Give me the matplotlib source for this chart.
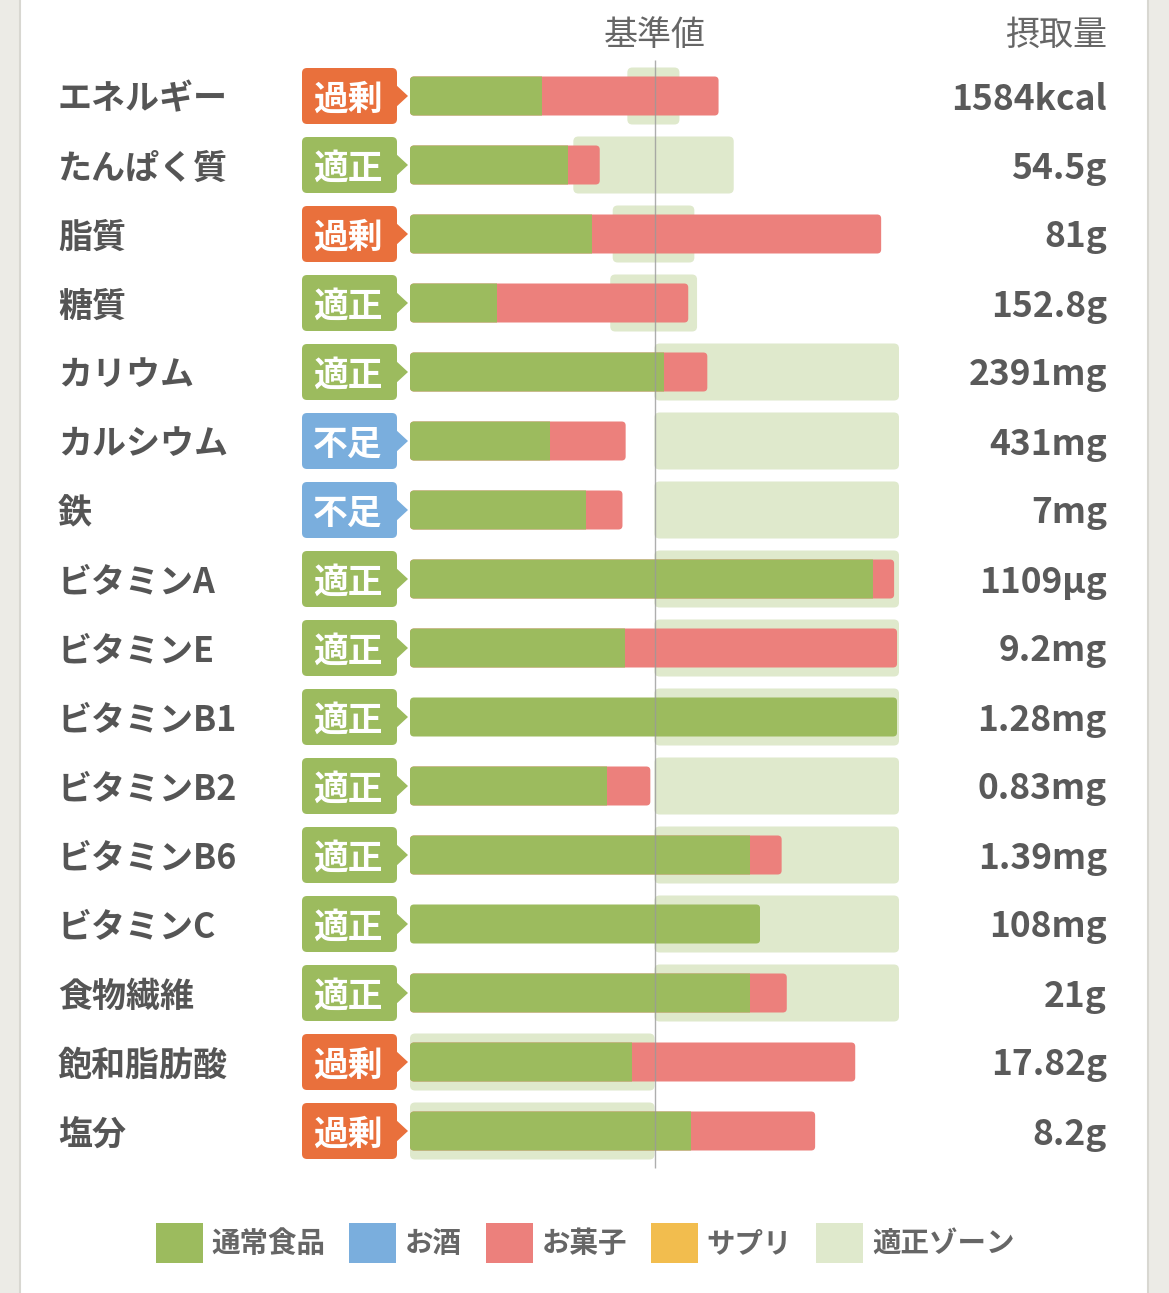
import matplotlib
matplotlib.use("Agg")
import matplotlib.pyplot as plt
from matplotlib.patches import FancyBboxPatch, Rectangle, Polygon, Patch

plt.rcParams['font.family'] = ['Noto Sans CJK JP', 'DejaVu Sans']

# --- data (percent of reference value, 100 = 基準値) ---
nutrients = ['エネルギー', 'たんぱく質', '脂質', '糖質', 'カリウム', 'カルシウム', '鉄',
             'ビタミンA', 'ビタミンE', 'ビタミンB1', 'ビタミンB2', 'ビタミンB6',
             'ビタミンC', '食物繊維', '飽和脂肪酸', '塩分']
status = ['過剰', '適正', '過剰', '適正', '適正', '不足', '不足', '適正',
          '適正', '適正', '適正', '適正', '適正', '適正', '過剰', '過剰']
intake = ['1584kcal', '54.5g', '81g', '152.8g', '2391mg', '431mg', '7mg', '1109µg',
          '9.2mg', '1.28mg', '0.83mg', '1.39mg', '108mg', '21g', '17.82g', '8.2g']
food = [53.9, 64.8, 74.6, 35.4, 103.8, 57.3, 72.1, 189.4,
        88.0, 200, 80.7, 139.2, 143.2, 139.2, 90.6, 114.9]
sweets = [72.3, 12.8, 118.1, 78.4, 17.8, 30.9, 14.8, 8.6,
          112.0, 0, 17.6, 12.8, 0, 14.9, 91.5, 50.8]
zone_lo = [88.9, 66.8, 82.9, 81.9, 100, 100, 100, 100,
           100, 100, 100, 100, 100, 100, 0, 0]
zone_hi = [110.2, 132.4, 116.3, 117.4, 200, 200, 200, 200,
           200, 200, 200, 200, 200, 200, 100, 100]

legend_labels = ['通常食品', 'お酒', 'お菓子', 'サプリ', '適正ゾーン']
legend_colors = ['#9cbb5e', '#7aaedd', '#ec807c', '#f2bd4e', '#dfe9cc']

C_FOOD = '#9cbb5e'
C_SWEET = '#ec807c'
C_ZONE = '#dfe9cc'
badge_color = {'過剰': '#e9703c', '適正': '#9cbb5e', '不足': '#7aaedd'}

# layout: 2.445 px per percent, 69 px per row, bar origin at x=410px, row0 at y=96px
W, H = 1169, 1293
PX = 2.445
RY = 69.0
X0 = 410
Y0 = 96
XMAX = 199.2

fig = plt.figure(figsize=(W / 100, H / 100), dpi=100)
fig.patch.set_facecolor('#ecebe6')
fig.patches.append(Rectangle((20 / W, -0.01), 1128 / W, 1.02, transform=fig.transFigure,
                             facecolor='white', edgecolor='#d8d7d1', lw=1.5, zorder=-5))

ax = fig.add_axes([0, 0, 1, 1])
ax.set_facecolor('none')
ax.set_xlim(-X0 / PX, (W - X0) / PX)
ax.set_ylim((H - Y0) / RY, -Y0 / RY)
ax.axis('off')

MA = PX / RY  # mutation aspect for round corners


def px_h(p):
    return p / RY


def px_w(p):
    return p / PX


def rbox(x0, x1, yc, hpx, color, z, rpx=4, clip=None):
    h = px_h(hpx)
    p = FancyBboxPatch((x0, yc - h / 2), x1 - x0, h,
                       boxstyle=f"round,pad=0,rounding_size={px_w(rpx)}",
                       mutation_aspect=MA, facecolor=color, edgecolor='none', zorder=z)
    ax.add_patch(p)
    if clip is not None:
        r = Rectangle((clip[0], yc - h), clip[1] - clip[0], 2 * h, transform=ax.transData)
        p.set_clip_path(r)
    return p


for i, name in enumerate(nutrients):
    # appropriate zone
    rbox(zone_lo[i], zone_hi[i], i, 57, C_ZONE, 1, rpx=5)
    # stacked bar: food + sweets
    total = min(food[i] + sweets[i], XMAX)
    f = min(food[i], XMAX)
    if sweets[i] > 0:
        rbox(0, total, i, 39, C_SWEET, 2)
    rbox(0, total, i, 39, C_FOOD, 3, clip=(0, f))

    # status badge
    bc = badge_color[status[i]]
    rbox(px_w(302 - X0), px_w(397 - X0), i, 56, bc, 2, rpx=5)
    ax.add_patch(Polygon([(px_w(395 - X0), i - px_h(12)), (px_w(408 - X0), i),
                          (px_w(395 - X0), i + px_h(12))],
                         closed=True, facecolor=bc, edgecolor='none', zorder=2))
    ax.text(px_w(348 - X0), i + px_h(3), status[i], ha='center', va='center',
            fontsize=25, fontweight='bold', color='white', zorder=5)

    # nutrient name and intake
    ax.text(px_w(58 - X0), i + px_h(3), name, ha='left', va='center', fontsize=24.5,
            fontweight='bold', color='#555555')
    ax.text(px_w(1107 - X0), i + px_h(3), intake[i], ha='right', va='center',
            fontsize=25.5, fontweight='bold', color='#5a5a5a')

# reference line
ax.vlines(100, px_h(60 - Y0), px_h(1168 - Y0), color='#9a9a9a', lw=1, alpha=0.8, zorder=4)

# headers
ax.text(100, px_h(35 - Y0), '基準値', ha='center', va='center', fontsize=24.5, color='#666666')
ax.text(px_w(1107 - X0), px_h(35 - Y0), '摂取量', ha='right', va='center', fontsize=24.5,
        color='#666666')

# legend
handles = [Patch(facecolor=c, edgecolor='none', label=l)
           for l, c in zip(legend_labels, legend_colors)]
leg = fig.legend(handles=handles, loc='center', ncol=5,
                 bbox_to_anchor=(585 / W, 1 - 1243 / H), frameon=False,
                 prop={'size': 20.5, 'weight': 'bold'},
                 handlelength=1.65, handleheight=1.75, handletextpad=0.3,
                 columnspacing=0.85, borderaxespad=0)
for t in leg.get_texts():
    t.set_color('#666666')

fig.savefig('out.png', dpi=100, facecolor=fig.get_facecolor())
